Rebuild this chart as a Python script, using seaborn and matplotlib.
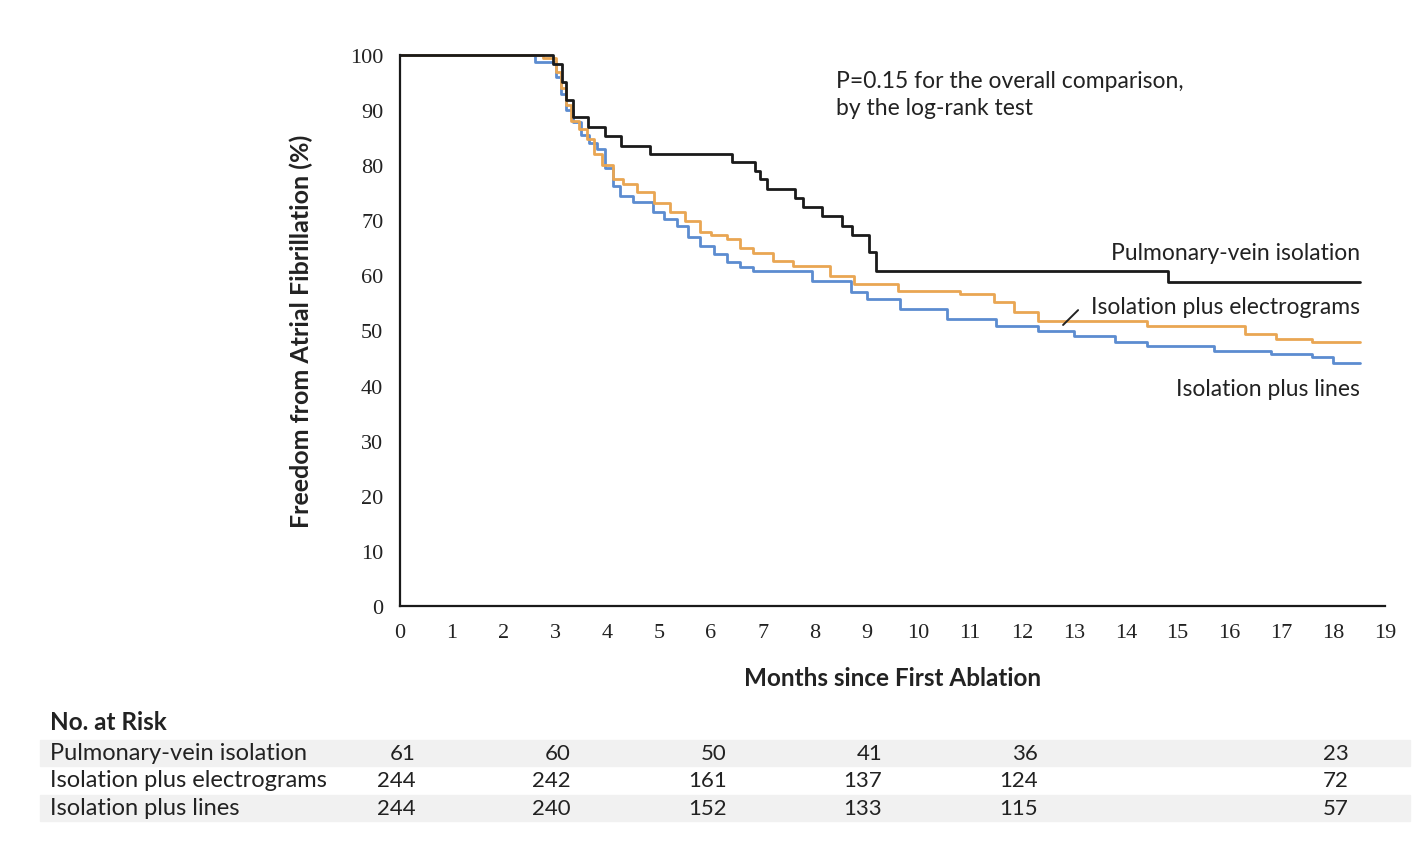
import matplotlib
matplotlib.use("Agg")
import matplotlib.pyplot as plt
import matplotlib.transforms as mtransforms
from matplotlib.patches import Rectangle
import seaborn as sns
import pandas as pd

# Kaplan-Meier step curves (months, % free of AF)
pvi_t = [0, 2.95, 3.12, 3.2, 3.34, 3.63, 3.95, 4.27, 4.83, 6.4, 6.85, 6.95, 7.08, 7.62, 7.77,
         8.14, 8.53, 8.72, 9.05, 9.18, 14.81, 18.52]
pvi_s = [100, 98.4, 95.1, 91.8, 88.7, 86.9, 85.3, 83.5, 82.0, 80.6, 79.0, 77.5, 75.7, 74.0, 72.4,
         70.8, 69.0, 67.3, 64.2, 60.8, 58.8, 58.8]

egm_t = [0, 2.75, 3.0, 3.1, 3.2, 3.3, 3.45, 3.6, 3.75, 3.9, 4.1, 4.3, 4.57, 4.9, 5.2, 5.5, 5.79,
         6.0, 6.3, 6.55, 6.8, 7.2, 7.58, 8.3, 8.75, 9.6, 10.8, 11.45, 11.85, 12.3, 14.4, 16.3,
         16.9, 17.6, 18.52]
egm_s = [100, 99.5, 97, 94, 91, 88, 86.5, 84.8, 82, 80, 77.5, 76.5, 75.1, 73.2, 71.5, 69.8, 67.9,
         67.3, 66.6, 65.0, 64.0, 62.6, 61.7, 59.9, 58.4, 57.2, 56.6, 55.2, 53.4, 51.7, 50.8, 49.4,
         48.5, 47.9, 47.9]

lin_t = [0, 2.6, 3.0, 3.1, 3.2, 3.34, 3.5, 3.65, 3.8, 3.95, 4.1, 4.24, 4.5, 4.88, 5.1, 5.34,
         5.55, 5.79, 6.05, 6.3, 6.55, 6.8, 7.95, 8.7, 9.0, 9.65, 10.55, 11.5, 12.3, 13.0, 13.8,
         14.4, 15.7, 16.8, 17.6, 18.0, 18.52]
lin_s = [100, 98.7, 96, 93, 90, 87.8, 85.5, 84, 82.9, 79.5, 76.2, 74.4, 73.3, 71.5, 70.2, 69,
         67, 65.3, 63.8, 62.4, 61.5, 60.8, 59.0, 57.0, 55.7, 53.9, 52.1, 50.8, 49.9, 49.0, 47.9,
         47.2, 46.3, 45.7, 45.2, 44.1, 44.1]

groups = ["Pulmonary-vein isolation", "Isolation plus electrograms", "Isolation plus lines"]
colors = ["#1a1a1a", "#E9A653", "#5C8CD0"]

# number at risk table
risk_months = [0, 3, 6, 9, 12, 18]
risk_pvi = [61, 60, 50, 41, 36, 23]
risk_egm = [244, 242, 161, 137, 124, 72]
risk_lin = [244, 240, 152, 133, 115, 57]

sns.set_style("white")
plt.rcParams["font.family"] = ["Lato", "DejaVu Sans"]
txt = "#222222"

fig = plt.figure(figsize=(14.27, 8.54), dpi=100)
ax = fig.add_axes([400 / 1427, 1 - 607 / 854, 985 / 1427, 551 / 854])

curves = [(pvi_t, pvi_s), (egm_t, egm_s), (lin_t, lin_s)]
# electrograms and lines first so the black curve sits on top
for i in [2, 1, 0]:
    df = pd.DataFrame({"t": curves[i][0], "s": curves[i][1]})
    sns.lineplot(data=df, x="t", y="s", ax=ax, color=colors[i], lw=2.0,
                 drawstyle="steps-post", estimator=None, sort=False, clip_on=False)

ax.set_xlim(0, 19)
ax.set_ylim(0, 100)
ax.set_xticks(range(0, 20))
ax.set_yticks(range(0, 101, 10))
sns.despine(ax=ax)
for sp in ["left", "bottom"]:
    ax.spines[sp].set_linewidth(1.6)
    ax.spines[sp].set_color("#1a1a1a")
ax.tick_params(axis="both", direction="out", length=9, width=1.5, color="#1a1a1a",
               labelsize=16, labelcolor=txt, pad=3)
for lab in ax.get_xticklabels() + ax.get_yticklabels():
    lab.set_fontfamily("Liberation Serif")

ax.set_xlabel("Months since First Ablation", fontsize=17.5, fontweight="bold", color=txt)
ax.xaxis.set_label_coords(9.5 / 19, -0.109)
ax.set_ylabel("Freedom from Atrial Fibrillation (%)", fontsize=18, fontweight="bold", color=txt)
ax.yaxis.set_label_coords(-0.088, 0.5)

# annotation
ax.text(8.41, 97.2, "P=0.15 for the overall comparison,\nby the log-rank test", fontsize=16.5,
        color=txt, va="top", ha="left", linespacing=1.3)

# curve labels
ax.text(18.52, 64.2, groups[0], fontsize=16.5, ha="right", va="center", color=txt)
ax.text(18.52, 54.3, groups[1], fontsize=16.5, ha="right", va="center", color=txt)
ax.text(18.52, 39.4, groups[2], fontsize=16.5, ha="right", va="center", color=txt)
ax.plot([12.79, 13.08], [51.0, 53.7], color=txt, lw=1.4, clip_on=False)

# number at risk table
trans = mtransforms.blended_transform_factory(ax.transData, fig.transFigure)
row_y = [1 - 754 / 854, 1 - 781 / 854, 1 - 809 / 854]
for yy in [row_y[0], row_y[2]]:
    fig.patches.append(Rectangle((40 / 1427, yy - 13 / 854), 1370 / 1427, 26 / 854,
                                 transform=fig.transFigure, color="#f1f1f1", zorder=-1))
fig.text(50 / 1427, 1 - 723 / 854, "No. at Risk", fontsize=17.5, fontweight="bold",
         color=txt, va="center", ha="left")
for yy, name, vals in zip(row_y, groups, [risk_pvi, risk_egm, risk_lin]):
    fig.text(50 / 1427, yy, name, fontsize=17, color=txt, va="center", ha="left")
    for m, v in zip(risk_months, vals):
        ax.text(m + 0.3, yy, str(v), transform=trans, fontsize=16, color=txt,
                va="center", ha="right", clip_on=False)

fig.savefig("out.png", dpi=100)
